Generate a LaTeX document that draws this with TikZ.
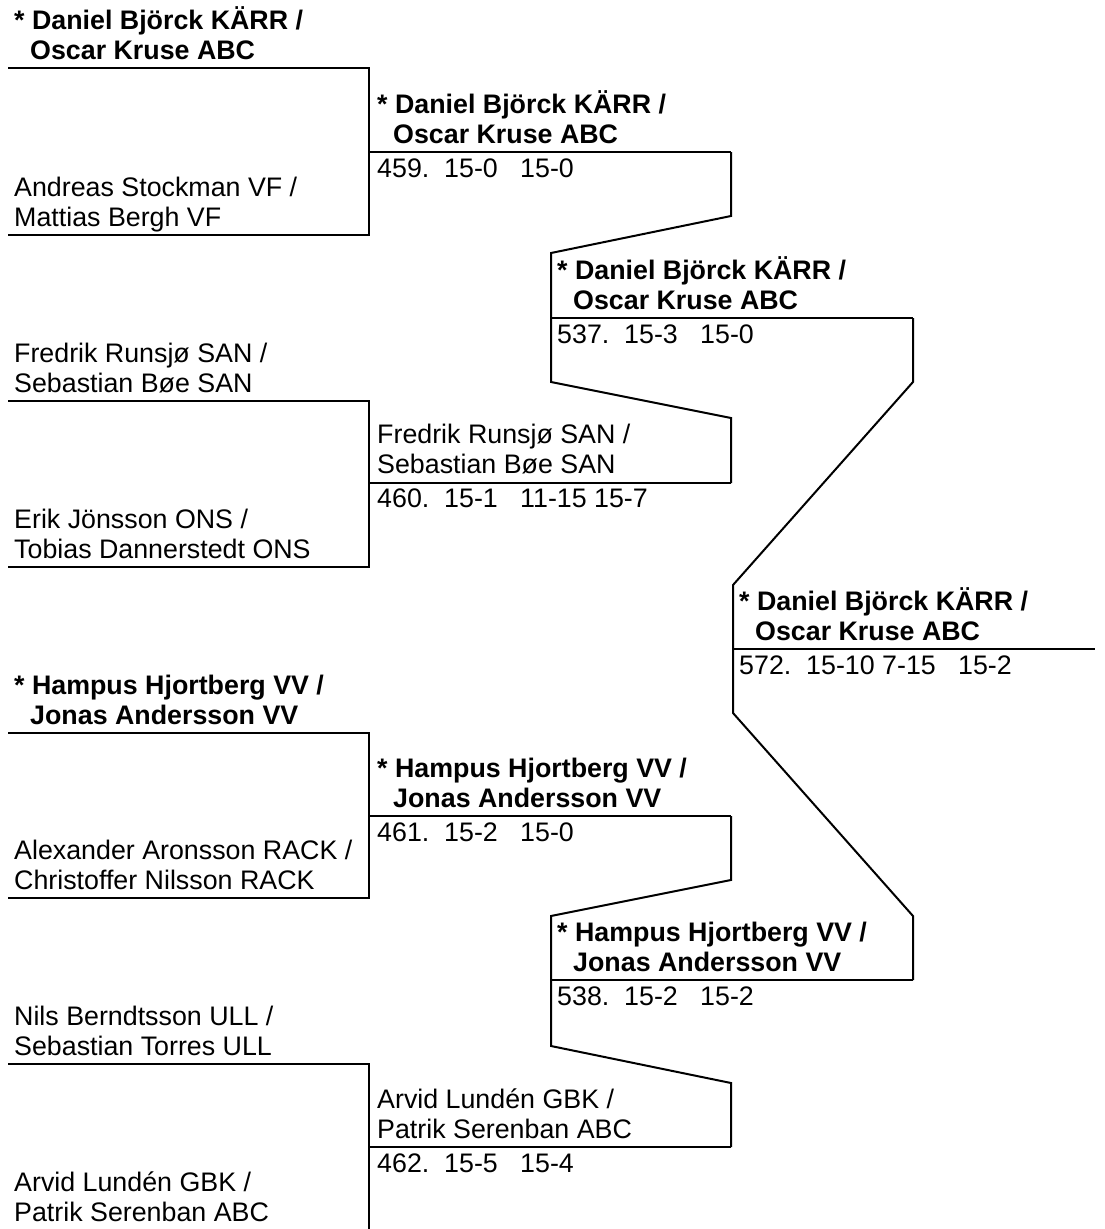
\documentclass[tikz,border=0pt]{standalone}
\usepackage{fontspec}
\setmainfont{Liberation Sans}
\begin{document}
\begin{tikzpicture}[x=1pt,y=-1pt,
  nm/.style={anchor=base west, inner sep=0pt, font=\fontsize{26.8}{30}\selectfont},
  bnm/.style={anchor=base west, inner sep=0pt, font=\fontsize{26.8}{30}\selectfont\bfseries},
  sc/.style={nm},
  br/.style={line width=2pt, line join=miter}]
\useasboundingbox (0,0) rectangle (1104,1229);

% ---------- round 1 texts ----------
\node[bnm] (a1) at (14,29) {* Daniel Björck KÄRR /};
\node[bnm] (a2) at (30,59) {Oscar Kruse ABC};
\node[nm] (b1) at (14,196) {Andreas Stockman VF /};
\node[nm] (b2) at (14,226) {Mattias Bergh VF};
\node[nm] (c1) at (14,362) {Fredrik Runsjø SAN /};
\node[nm] (c2) at (14,392) {Sebastian Bøe SAN};
\node[nm] (d1) at (14,528) {Erik Jönsson ONS /};
\node[nm] (d2) at (14,558) {Tobias Dannerstedt ONS};
\node[bnm] (e1) at (14,694) {* Hampus Hjortberg VV /};
\node[bnm] (e2) at (30,724) {Jonas Andersson VV};
\node[nm] (f1) at (14,859) {Alexander Aronsson RACK /};
\node[nm] (f2) at (14,889) {Christoffer Nilsson RACK};
\node[nm] (g1) at (14,1025) {Nils Berndtsson ULL /};
\node[nm] (g2) at (14,1055) {Sebastian Torres ULL};
\node[nm] (h1) at (14,1191) {Arvid Lundén GBK /};
\node[nm] (h2) at (14,1221) {Patrik Serenban ABC};

% ---------- round 2 texts ----------
\node[bnm] (m459a) at (377,113) {* Daniel Björck KÄRR /};
\node[bnm] (m459b) at (393,143) {Oscar Kruse ABC};
\node[sc] (s459) at (377,177) {459.\ \ 15-0\ \ \ 15-0};
\node[nm] (m460a) at (377,443) {Fredrik Runsjø SAN /};
\node[nm] (m460b) at (377,473) {Sebastian Bøe SAN};
\node[sc] (s460) at (377,507) {460.\ \ 15-1\ \ \ 11-15 15-7};
\node[bnm] (m461a) at (377,777) {* Hampus Hjortberg VV /};
\node[bnm] (m461b) at (393,807) {Jonas Andersson VV};
\node[sc] (s461) at (377,841) {461.\ \ 15-2\ \ \ 15-0};
\node[nm] (m462a) at (377,1108) {Arvid Lundén GBK /};
\node[nm] (m462b) at (377,1138) {Patrik Serenban ABC};
\node[sc] (s462) at (377,1172) {462.\ \ 15-5\ \ \ 15-4};

% ---------- round 3 texts ----------
\node[bnm] (m537a) at (557,279) {* Daniel Björck KÄRR /};
\node[bnm] (m537b) at (573,309) {Oscar Kruse ABC};
\node[sc] (s537) at (557,343) {537.\ \ 15-3\ \ \ 15-0};
\node[bnm] (m538a) at (557,941) {* Hampus Hjortberg VV /};
\node[bnm] (m538b) at (573,971) {Jonas Andersson VV};
\node[sc] (s538) at (557,1005) {538.\ \ 15-2\ \ \ 15-2};

% ---------- final ----------
\node[bnm] (m572a) at (739,610) {* Daniel Björck KÄRR /};
\node[bnm] (m572b) at (755,640) {Oscar Kruse ABC};
\node[sc] (s572) at (739,674) {572.\ \ 15-10 7-15\ \ \ 15-2};

% ---------- coordinates ----------
\coordinate (L1a) at (8,68);   \coordinate (R1a) at (369,68);
\coordinate (L1b) at (8,235);  \coordinate (R1b) at (369,235);
\coordinate (L1c) at (8,401);  \coordinate (R1c) at (369,401);
\coordinate (L1d) at (8,567);  \coordinate (R1d) at (369,567);
\coordinate (L1e) at (8,733);  \coordinate (R1e) at (369,733);
\coordinate (L1f) at (8,898);  \coordinate (R1f) at (369,898);
\coordinate (L1g) at (8,1064); \coordinate (R1g) at (369,1064);
\coordinate (R1h) at (369,1229);

\coordinate (L459) at (369,152);  \coordinate (R459) at (731,152);
\coordinate (L460) at (369,483);  \coordinate (R460) at (731,483);
\coordinate (L461) at (369,816);  \coordinate (R461) at (731,816);
\coordinate (L462) at (369,1147); \coordinate (R462) at (731,1147);

\coordinate (L537) at (551,318);  \coordinate (R537) at (913,318);
\coordinate (L538) at (551,980);  \coordinate (R538) at (913,980);

\coordinate (L572) at (733,649);  \coordinate (R572) at (1095,649);

% ---------- round 1 brackets ----------
\draw[br] (L1a) -- (R1a) -- (R1b) -- (L1b);
\draw[br] (L1c) -- (R1c) -- (R1d) -- (L1d);
\draw[br] (L1e) -- (R1e) -- (R1f) -- (L1f);
\draw[br] (L1g) -- (R1g) -- (R1h);

% ---------- round 2 lines ----------
\draw[br] (L459) -- (R459);
\draw[br] (L460) -- (R460);
\draw[br] (L461) -- (R461);
\draw[br] (L462) -- (R462);

% ---------- round 2 -> 3 connectors ----------
\draw[br] (R459) -- (731,216) -- (551,253) -- (551,382) -- (731,418) -- (R460);
\draw[br] (R461) -- (731,880) -- (551,916) -- (551,1046) -- (731,1083) -- (R462);
\draw[br] (L537) -- (R537);
\draw[br] (L538) -- (R538);

% ---------- round 3 -> final ----------
\draw[br] (R537) -- (913,382) -- (733,585) -- (733,713) -- (913,916) -- (R538);
\draw[br] (L572) -- (R572);
\end{tikzpicture}
\end{document}
